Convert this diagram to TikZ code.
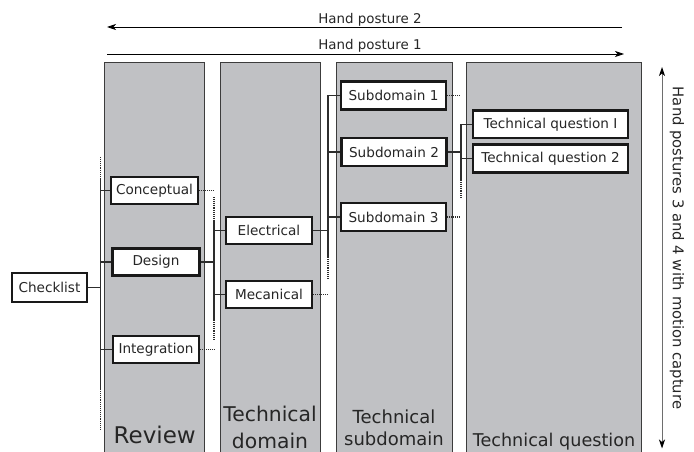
\documentclass[tikz,border=0pt]{standalone}
\usepackage{fontspec}
\setmainfont{DejaVu Sans}
\usetikzlibrary{arrows.meta}
\definecolor{colfill}{RGB}{192,193,196}
\definecolor{colline}{RGB}{60,60,60}
\definecolor{connc}{RGB}{45,45,45}
\definecolor{arrowgray}{RGB}{110,110,110}
\begin{document}
\begin{tikzpicture}[x=1pt,y=-1pt,
  box/.style={draw=black!90, line width=2.6pt, fill=white, inner sep=0pt,
    font=\fontsize{13.6}{16}\selectfont, text=black!85},
  colbox/.style={fill=colfill},
  colborder/.style={draw=colline, line width=0.9pt},
  conn/.style={draw=connc, line width=1.2pt},
  dotline/.style={draw=connc, line width=1.1pt, dash pattern=on 0.9pt off 1pt},
  lbl/.style={font=\fontsize{13.4}{16}\selectfont, text=black!85},
  harrow/.style={draw=black, line width=0.8pt, -{Stealth[length=9pt,width=6pt,inset=2.5pt]}},
  varrow/.style={draw=arrowgray, line width=1pt, {Stealth[length=9pt,width=6pt,inset=2.5pt,color=black]}-{Stealth[length=9pt,width=6pt,inset=2.5pt,color=black]}},
  collbl/.style={anchor=base, align=center, text=black!85}
]
\useasboundingbox (0,0) rectangle (694,452);

% columns
\fill[colbox] (104,62) rectangle (204,460);
\draw[colborder] (104,460) -- (104,62) -- (204,62) -- (204,460);
\fill[colbox] (220.7,62) rectangle (320,460);
\draw[colborder] (220.7,460) -- (220.7,62) -- (320,62) -- (320,460);
\fill[colbox] (336.7,62) rectangle (452,460);
\draw[colborder] (336.7,460) -- (336.7,62) -- (452,62) -- (452,460);
\fill[colbox] (466.7,62) rectangle (641,460);
\draw[colborder] (466.7,460) -- (466.7,62) -- (641,62) -- (641,460);

% column labels
\node[collbl, font=\fontsize{23}{28}\selectfont] (lreview) at (154.7,443) {Review};
\node[collbl, font=\fontsize{20.3}{26.3}\selectfont] (ldomain) at (270,448) {Technical\\domain};
\node[collbl, font=\fontsize{18}{22.4}\selectfont] (lsub) at (394,445.7) {Technical\\subdomain};
\node[collbl, font=\fontsize{17.6}{21}\selectfont] (lquest) at (554,446.7) {Technical question};

% top arrows
\coordinate (hp2r) at (622,27);
\coordinate (hp2l) at (107,27);
\coordinate (hp1l) at (107,54);
\coordinate (hp1r) at (624,54);
\draw[harrow] (hp2r) -- (hp2l);
\draw[harrow] (hp1l) -- (hp1r);
\node[lbl, anchor=base] (thp2) at (370,23.1) {Hand posture 2};
\node[lbl, anchor=base] (thp1) at (370,49.8) {Hand posture 1};

% vertical arrow
\coordinate (vtop) at (662,67);
\coordinate (vbot) at (662,448.5);
\draw[varrow] (vtop) -- (vbot);
\node[lbl, rotate=-90, font=\fontsize{14.8}{17}\selectfont] (tvert) at (677,248) {Hand postures 3 and 4 with motion capture};

% boxes
\node[box, minimum width=75pt, minimum height=29pt] (checklist) at (49.5,287.5) {Checklist};
\node[box, minimum width=87pt, minimum height=27pt] (conceptual) at (154.5,190.5) {Conceptual};
\node[box, minimum width=86.6pt, minimum height=27.5pt] (design) at (156,262) {Design};
\node[box, minimum width=86pt, minimum height=27.3pt] (integration) at (156,349.5) {Integration};
\node[box, minimum width=86.3pt, minimum height=27.3pt] (electrical) at (269,230.5) {Electrical};
\node[box, minimum width=86.3pt, minimum height=27pt] (mecanical) at (269,294.5) {Mecanical};
\node[box, minimum width=105.3pt, minimum height=27.6pt] (sub1) at (393.5,95.5) {Subdomain 1};
\node[box, minimum width=105pt, minimum height=28pt] (sub2) at (394,152) {Subdomain 2};
\node[box, minimum width=105pt, minimum height=27.7pt] (sub3) at (393.5,217) {Subdomain 3};
\node[box, minimum width=155pt, minimum height=27.7pt] (tq1) at (550.5,124.3) {Technical question I};
\node[box, minimum width=155pt, minimum height=27.7pt] (tq2) at (550.5,158.5) {Technical question 2};

% junction coordinates
\coordinate (j1a) at (100.5,157);
\coordinate (j1b) at (100.5,178);
\coordinate (j1c) at (100.5,389);
\coordinate (j1d) at (100.5,430);
\coordinate (j2a) at (214,197);
\coordinate (j2b) at (214,220);
\coordinate (j2c) at (214,320);
\coordinate (j2d) at (214,340);
\coordinate (j3a) at (328,95.5);
\coordinate (j3b) at (328,257);
\coordinate (j3c) at (328,278);
\coordinate (j4a) at (461,124.3);
\coordinate (j4b) at (461,180);
\coordinate (j4c) at (461,198);

% level 1
\draw[conn] (j1b) -- (j1c);
\draw[dotline] (j1a) -- (j1b);
\draw[dotline] (j1c) -- (j1d);
\draw[conn] (checklist.east) -- (checklist.east -| j1b);
\draw[conn] (conceptual.west -| j1b) -- (conceptual.west);
\draw[conn] (design.west -| j1b) -- (design.west);
\draw[conn] (integration.west -| j1b) -- (integration.west);

% level 2
\draw[dotline] (conceptual.east) -- (conceptual.east -| j2a);
\draw[dotline] (integration.east) -- (integration.east -| j2a);
\draw[conn] (design.east) -- (design.east -| j2a);
\draw[conn] (j2b) -- (j2c);
\draw[dotline] (j2a) -- (j2b);
\draw[dotline] (j2c) -- (j2d);
\draw[conn] (electrical.west -| j2a) -- (electrical.west);
\draw[conn] (mecanical.west -| j2a) -- (mecanical.west);

% level 3
\draw[dotline] (mecanical.east) -- (mecanical.east -| j3a);
\draw[conn] (electrical.east) -- (electrical.east -| j3a);
\draw[conn] (j3a) -- (j3b);
\draw[dotline] (j3b) -- (j3c);
\draw[conn] (sub1.west -| j3a) -- (sub1.west);
\draw[conn] (sub2.west -| j3a) -- (sub2.west);
\draw[conn] (sub3.west -| j3a) -- (sub3.west);

% level 4
\draw[dotline] (sub1.east) -- ++(12,0) coordinate (s1e);
\draw[dotline] (sub3.east) -- ++(12,0) coordinate (s3e);
\draw[conn] (sub2.east) -- (sub2.east -| j4a);
\draw[conn] (j4a) -- (j4b);
\draw[dotline] (j4b) -- (j4c);
\draw[conn] (tq1.west -| j4a) -- (tq1.west);
\draw[conn] (tq2.west -| j4a) -- (tq2.west);
\end{tikzpicture}
\end{document}
